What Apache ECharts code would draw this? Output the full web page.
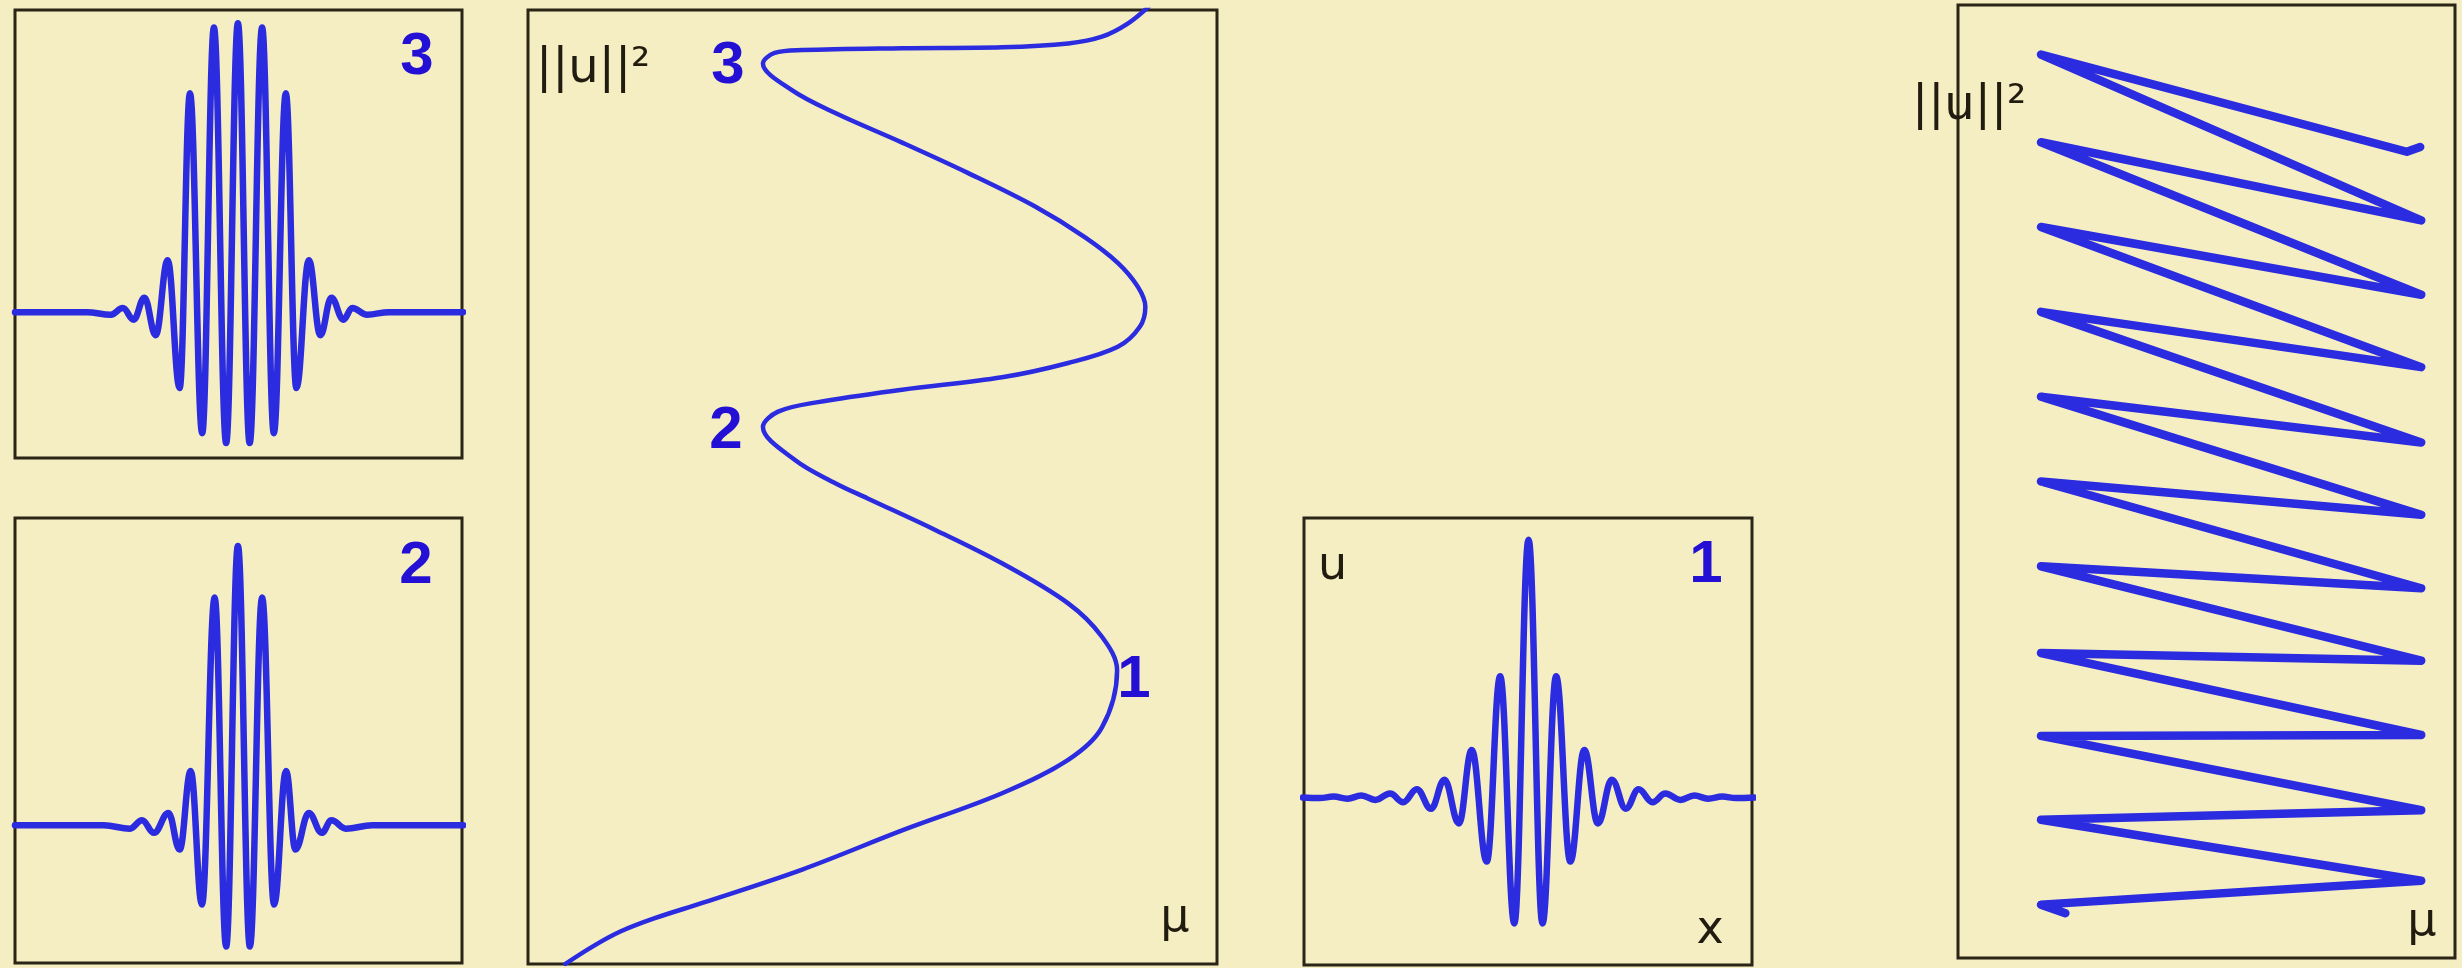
<!DOCTYPE html>
<html>
<head>
<meta charset="utf-8">
<script src="https://cdn.jsdelivr.net/npm/echarts@6/dist/echarts.min.js"></script>
<style>
html, body { margin: 0; padding: 0; background: #f5eec3; }
#chart { width: 2462px; height: 968px; }
</style>
</head>
<body>
<div id="chart"></div>
<script>
// profile of mode 3 (top left) : x in oscillation periods, u relative to the central peak
var mode3X = [-9.3, -6.3, -5.3, -4.8, -4.35, -3.9, -3.43, -2.93, -2.43, -2.0, -1.49, -1.0, -0.49, 0,
	0.49, 1.01, 1.5, 2.0, 2.44, 2.96, 3.44, 3.9, 4.4, 4.77, 5.39, 6.3, 9.4];
var mode3U = [0, 0, -0.009, 0.014, -0.026, 0.05, -0.08, 0.18, -0.263, 0.758, -0.419, 0.985, -0.453, 1.0,
	-0.453, 0.985, -0.419, 0.758, -0.263, 0.18, -0.08, 0.05, -0.026, 0.014, -0.009, 0, 0];

// profile of mode 2 (bottom left)
var mode2X = [-9.3, -5.6, -4.5, -4.0, -3.5, -2.9, -2.43, -1.97, -1.5, -0.97, -0.49, 0,
	0.5, 1.01, 1.51, 2.01, 2.4, 2.96, 3.5, 3.9, 4.5, 5.6, 9.4];
var mode2U = [0, 0, -0.012, 0.018, -0.027, 0.044, -0.087, 0.194, -0.284, 0.815, -0.434, 1.0,
	-0.434, 0.815, -0.284, 0.194, -0.087, 0.044, -0.027, 0.018, -0.012, 0, 0];

// profile of mode 1 (small panel, u against x)
var mode1X = [-8.1, -7.5, -7.0, -6.5, -6.0, -5.5, -4.97, -4.5, -4.01, -3.5, -3.02, -2.5, -2.04, -1.5, -1.02, -0.51, 0,
	0.5, 0.99, 1.5, 2.0, 2.49, 2.99, 3.49, 3.95, 4.45, 4.91, 5.45, 5.95, 6.45, 6.95, 7.45, 8.1];
var mode1U = [0, -0.002, 0.004, -0.004, 0.008, -0.009, 0.016, -0.018, 0.032, -0.043, 0.069, -0.1, 0.185, -0.248, 0.47, -0.488, 1.0,
	-0.488, 0.47, -0.248, 0.185, -0.1, 0.069, -0.043, 0.032, -0.018, 0.016, -0.009, 0.008, -0.004, 0.004, -0.002, 0];

// branch ||u||^2 against mu with three folds (tall panel), read from the bottom up
var branchMu = [0.54, 0.93, 1.34, 1.84, 2.53, 3.98, 5.43, 6.88, 7.84, 8.33, 8.55,
	8.33, 7.84, 6.88, 5.91, 4.93, 4.46, 3.88, 3.41,
	3.63, 4.21, 5.43, 6.88, 7.84, 8.56, 8.88, 8.96,
	8.85, 8.56, 8.08, 7.36, 6.39, 5.43, 4.46, 3.83, 3.41,
	3.58, 3.98, 5.43, 6.88, 7.84, 8.33, 8.71, 9.03];
var branchNorm = [0, 0.18, 0.34, 0.48, 0.64, 0.99, 1.40, 1.79, 2.14, 2.48, 3.08,
	3.43, 3.78, 4.20, 4.55, 4.88, 5.04, 5.28, 5.63,
	5.79, 5.89, 6.02, 6.15, 6.30, 6.47, 6.68, 6.89,
	7.10, 7.35, 7.62, 7.94, 8.29, 8.61, 8.92, 9.16, 9.44,
	9.55, 9.58, 9.60, 9.61, 9.65, 9.72, 9.86, 10.05];

// snaking branch (right panel)
var snakeMu = [2.16, 1.67, 9.32, 1.67, 9.32, 1.67, 9.32, 1.67, 9.32, 1.67, 9.32, 1.67,
	9.32, 1.67, 9.32, 1.67, 9.32, 1.67, 9.32, 1.67, 9.32, 1.67, 9.03, 9.30];
var snakeNorm = [0.47, 0.56, 0.81, 1.45, 1.55, 2.33, 2.34, 3.20, 3.12, 4.11, 3.88, 5.00,
	4.65, 5.89, 5.41, 6.78, 6.20, 7.67, 6.96, 8.56, 7.74, 9.48, 8.46, 8.51];

var BLUE = '#2b2be0';
var LABEL_BLUE = '#2410d4';
var INK = '#221c10';
var FRAME = '#2b2517';

function pairs(xs, ys) {
	return xs.map(function(x, i) {
		return [ x, ys[i] ];
	});
}

var boxes = [
	{ left: 15, top: 10, width: 447, height: 448 },   // mode 3
	{ left: 15, top: 518, width: 447, height: 445 },  // mode 2
	{ left: 528, top: 10, width: 689, height: 954 },  // branch
	{ left: 1304, top: 518, width: 448, height: 447 }, // mode 1
	{ left: 1958, top: 5, width: 497, height: 953 }   // snaking
];
var xRanges = [ [-9.3, 9.35], [-9.3, 9.35], [0, 10], [-8.06, 8.02], [0, 10] ];
var yRanges = [ [-0.505, 1.046], [-0.493, 1.10], [0, 10], [-0.649, 1.084], [0, 10] ];

var grids = [], xAxes = [], yAxes = [];
boxes.forEach(function(b, i) {
	grids.push({
		left: b.left, top: b.top, width: b.width, height: b.height,
		show: true, borderColor: FRAME, borderWidth: 3, backgroundColor: 'transparent'
	});
	xAxes.push({ type: 'value', gridIndex: i, min: xRanges[i][0], max: xRanges[i][1], show: false });
	yAxes.push({ type: 'value', gridIndex: i, min: yRanges[i][0], max: yRanges[i][1], show: false });
});

function wave(idx, data) {
	return {
		type: 'line', xAxisIndex: idx, yAxisIndex: idx, data: data,
		showSymbol: false, smooth: 0.4, smoothMonotone: 'x', silent: true,
		lineStyle: { color: BLUE, width: 6.5, cap: 'round', join: 'round' }
	};
}

function label(text, x, y, font, color, align) {
	return {
		type: 'text', silent: true, z: 10,
		style: {
			text: text, x: x, y: y, font: font, fill: color,
			textAlign: align || 'center', textVerticalAlign: 'middle'
		}
	};
}

var digitFont = 'bold 60px "Liberation Sans", Arial, sans-serif';
var textFont = '46px "DejaVu Sans", sans-serif';

var option = {
	backgroundColor: '#f5eec3',
	animation: false,
	grid: grids,
	xAxis: xAxes,
	yAxis: yAxes,
	series: [
		wave(0, pairs(mode3X, mode3U)),
		wave(1, pairs(mode2X, mode2U)),
		{
			type: 'line', xAxisIndex: 2, yAxisIndex: 2, data: pairs(branchMu, branchNorm),
			showSymbol: false, smooth: 0.35, silent: true,
			lineStyle: { color: BLUE, width: 4.5, cap: 'round', join: 'round' }
		},
		wave(3, pairs(mode1X, mode1U)),
		{
			type: 'line', xAxisIndex: 4, yAxisIndex: 4, data: pairs(snakeMu, snakeNorm),
			showSymbol: false, smooth: false, silent: true,
			lineStyle: { color: BLUE, width: 8.5, cap: 'round', join: 'round' }
		}
	],
	graphic: [
		label('3', 417, 57, digitFont, LABEL_BLUE),
		label('2', 416, 566, digitFont, LABEL_BLUE),
		label('||u||²', 536, 70, '48px "DejaVu Sans", sans-serif', INK, 'left'),
		label('3', 728, 66, digitFont, LABEL_BLUE),
		label('2', 726, 431, digitFont, LABEL_BLUE),
		label('1', 1134, 680, digitFont, LABEL_BLUE),
		label('μ', 1175, 919, textFont, INK),
		label('u', 1318, 567, textFont, INK, 'left'),
		label('1', 1706, 565, digitFont, LABEL_BLUE),
		label('x', 1710, 931, textFont, INK),
		label('||u||²', 1912, 107, '48px "DejaVu Sans", sans-serif', INK, 'left'),
		label('μ', 2422, 923, textFont, INK)
	]
};

echarts.init(document.getElementById('chart')).setOption(option);
</script>
</body>
</html>
